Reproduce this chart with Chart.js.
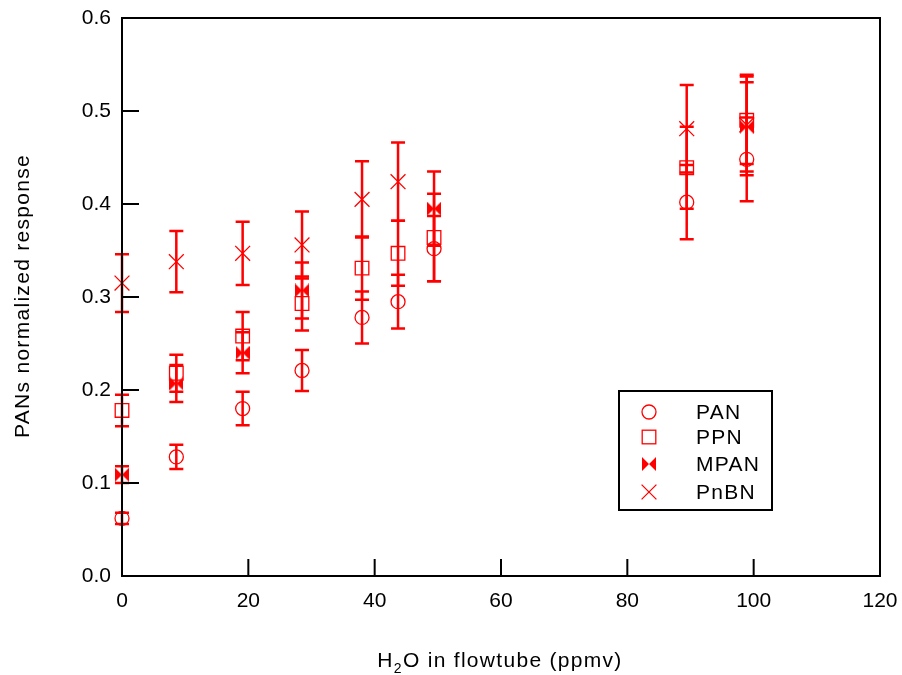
<!DOCTYPE html>
<html lang="en">
<head>
    <meta charset="UTF-8">
    <title>PANs normalized response</title>
    <script src="https://cdn.jsdelivr.net/npm/chart.js"></script>
    <style>
        body { margin: 0; background: #fff; }
        #wrap { width: 902px; height: 675px; }
    </style>
</head>
<body>
    <div id="wrap"><canvas id="chart"></canvas></div>

    <script>
        // H2O (ppmv) and normalized response
        const panX = [0, 8.6, 19.1, 28.5, 38.0, 43.7, 49.4, 89.4, 98.9];
        const panY = [0.062, 0.128, 0.180, 0.221, 0.278, 0.295, 0.352, 0.402, 0.448];
        const panErr = [0.006, 0.013, 0.018, 0.022, 0.028, 0.029, 0.035, 0.040, 0.045];

        const ppnX = [0, 8.6, 19.1, 28.5, 38.0, 43.7, 49.4, 89.4, 98.9];
        const ppnY = [0.178, 0.218, 0.258, 0.293, 0.331, 0.347, 0.364, 0.439, 0.490];
        const ppnErr = [0.017, 0.020, 0.026, 0.029, 0.034, 0.035, 0.047, 0.044, 0.047];

        const mpanX = [0, 8.6, 19.1, 28.5, 49.4, 98.9];
        const mpanY = [0.109, 0.207, 0.240, 0.307, 0.395, 0.483];
        const mpanErr = [0.009, 0.020, 0.022, 0.030, 0.040, 0.048];

        const pnbnX = [0, 8.6, 19.1, 28.5, 38.0, 43.7, 89.4, 98.9];
        const pnbnY = [0.315, 0.338, 0.347, 0.356, 0.405, 0.424, 0.481, 0.485];
        const pnbnErr = [0.031, 0.033, 0.034, 0.036, 0.041, 0.042, 0.047, 0.054];

        const xTicks = [0, 20, 40, 60, 80, 100, 120];
        const yTicks = [0.0, 0.1, 0.2, 0.3, 0.4, 0.5, 0.6];

        const RED = '#ff0000';
        const FONT = 'Liberation Sans, Arial, sans-serif';

        // bow-tie marker for MPAN
        function makeBowtie(size) {
            const c = document.createElement('canvas');
            c.width = size; c.height = size;
            const g = c.getContext('2d');
            g.fillStyle = RED;
            g.beginPath();
            g.moveTo(0, 0); g.lineTo(size / 2, size / 2); g.lineTo(0, size); g.closePath();
            g.moveTo(size, 0); g.lineTo(size / 2, size / 2); g.lineTo(size, size); g.closePath();
            g.fill();
            return c;
        }
        const bowtie = makeBowtie(14);

        function toPoints(xs, ys, errs) {
            return xs.map((x, i) => ({ x: x, y: ys[i], err: errs[i] }));
        }

        const series = [
            { label: 'PAN', data: toPoints(panX, panY, panErr), pointStyle: 'circle', pointRadius: 7 },
            { label: 'PPN', data: toPoints(ppnX, ppnY, ppnErr), pointStyle: 'rect', pointRadius: 9.6 },
            { label: 'MPAN', data: toPoints(mpanX, mpanY, mpanErr), pointStyle: bowtie, pointRadius: 7 },
            { label: 'PnBN', data: toPoints(pnbnX, pnbnY, pnbnErr), pointStyle: 'crossRot', pointRadius: 10.5 }
        ];

        function drawMarker(ctx, style, x, y) {
            ctx.save();
            ctx.strokeStyle = RED;
            ctx.fillStyle = RED;
            ctx.lineWidth = 1.3;
            ctx.beginPath();
            if (style === 'circle') {
                ctx.arc(x, y, 7, 0, Math.PI * 2);
                ctx.stroke();
            } else if (style === 'rect') {
                ctx.strokeRect(x - 6.8, y - 6.8, 13.6, 13.6);
            } else if (style === 'crossRot') {
                ctx.moveTo(x - 7.4, y - 7.4); ctx.lineTo(x + 7.4, y + 7.4);
                ctx.moveTo(x + 7.4, y - 7.4); ctx.lineTo(x - 7.4, y + 7.4);
                ctx.stroke();
            } else {
                ctx.drawImage(bowtie, x - 7, y - 7);
            }
            ctx.restore();
        }

        const errorBars = {
            id: 'errorBars',
            beforeDatasetsDraw(chart) {
                const ctx = chart.ctx;
                const xs = chart.scales.x, ys = chart.scales.y;
                ctx.save();
                ctx.strokeStyle = RED;
                ctx.lineWidth = 2.5;
                chart.data.datasets.forEach(ds => {
                    ds.data.forEach(p => {
                        const px = xs.getPixelForValue(p.x);
                        const top = ys.getPixelForValue(p.y + p.err);
                        const bot = ys.getPixelForValue(p.y - p.err);
                        ctx.beginPath();
                        ctx.moveTo(px, top); ctx.lineTo(px, bot);
                        ctx.moveTo(px - 7, top); ctx.lineTo(px + 7, top);
                        ctx.moveTo(px - 7, bot); ctx.lineTo(px + 7, bot);
                        ctx.stroke();
                    });
                });
                ctx.restore();
            }
        };

        const frame = {
            id: 'frame',
            afterDraw(chart) {
                const ctx = chart.ctx;
                const a = chart.chartArea;
                const xs = chart.scales.x, ys = chart.scales.y;
                ctx.save();
                ctx.strokeStyle = '#000';
                ctx.lineWidth = 2;
                ctx.strokeRect(a.left, a.top, a.right - a.left, a.bottom - a.top);
                ctx.beginPath();
                yTicks.forEach(v => {
                    const py = ys.getPixelForValue(v);
                    ctx.moveTo(a.left, py); ctx.lineTo(a.left + 17, py);
                });
                xTicks.forEach(v => {
                    const px = xs.getPixelForValue(v);
                    ctx.moveTo(px, a.bottom); ctx.lineTo(px, a.bottom - 17);
                });
                ctx.stroke();

                ctx.fillStyle = '#000';
                ctx.letterSpacing = '1.3px';

                // y axis title
                ctx.save();
                ctx.font = '21px ' + FONT;
                ctx.translate(23, 296);
                ctx.rotate(-Math.PI / 2);
                ctx.textAlign = 'center';
                ctx.textBaseline = 'middle';
                ctx.fillText('PANs normalized response', 0, 0);
                ctx.restore();

                // x axis title with subscript
                ctx.textBaseline = 'alphabetic';
                ctx.textAlign = 'left';
                const big = '21px ' + FONT, small = '14px ' + FONT;
                const parts = [['H', big, 0], ['2', small, 6], ['O in flowtube (ppmv)', big, 0]];
                let w = 0;
                parts.forEach(p => { ctx.font = p[1]; w += ctx.measureText(p[0]).width; });
                let x = 500 - w / 2;
                parts.forEach(p => {
                    ctx.font = p[1];
                    ctx.fillText(p[0], x, 667 + p[2]);
                    x += ctx.measureText(p[0]).width;
                });

                // legend box
                ctx.lineWidth = 2;
                ctx.strokeRect(619, 391, 153, 119);
                ctx.font = '21px ' + FONT;
                ctx.textBaseline = 'middle';
                const rows = [412, 437, 464, 492];
                chart.data.datasets.forEach((ds, i) => {
                    const style = typeof ds.pointStyle === 'string' ? ds.pointStyle : 'bowtie';
                    drawMarker(ctx, style, 649, rows[i]);
                    ctx.fillStyle = '#000';
                    ctx.fillText(ds.label, 696, rows[i] + 1);
                });
                ctx.letterSpacing = '0px';
                ctx.restore();
            }
        };

        function noOverhang(scale) {
            scale.paddingLeft = 0;
            scale.paddingRight = 0;
            scale.paddingTop = 0;
            scale.paddingBottom = 0;
        }

        new Chart(document.getElementById('chart'), {
            type: 'scatter',
            data: {
                datasets: series.map(s => ({
                    label: s.label,
                    data: s.data,
                    pointStyle: s.pointStyle,
                    pointRadius: s.pointRadius,
                    pointHoverRadius: s.pointRadius,
                    borderColor: RED,
                    backgroundColor: 'rgba(0,0,0,0)',
                    borderWidth: 1.3,
                    showLine: false,
                    clip: false
                }))
            },
            options: {
                responsive: true,
                maintainAspectRatio: false,
                animation: false,
                layout: { padding: { left: 0, top: 18, right: 22, bottom: 0 } },
                plugins: {
                    legend: { display: false },
                    tooltip: { enabled: false }
                },
                scales: {
                    x: {
                        type: 'linear',
                        min: 0, max: 120,
                        grid: { display: false, drawTicks: false },
                        border: { display: false },
                        afterBuildTicks: scale => { scale.ticks = xTicks.map(v => ({ value: v })); },
                        afterFit: scale => { scale.height = 99; noOverhang(scale); },
                        ticks: {
                            color: '#000',
                            padding: 13,
                            maxRotation: 0,
                            font: { family: FONT, size: 21 },
                            callback: v => String(v)
                        }
                    },
                    y: {
                        type: 'linear',
                        min: 0, max: 0.6,
                        grid: { display: false, drawTicks: false },
                        border: { display: false },
                        afterBuildTicks: scale => { scale.ticks = yTicks.map(v => ({ value: v })); },
                        afterFit: scale => { scale.width = 122; noOverhang(scale); },
                        ticks: {
                            color: '#000',
                            padding: 11,
                            font: { family: FONT, size: 21 },
                            callback: v => v.toFixed(1)
                        }
                    }
                }
            },
            plugins: [errorBars, frame]
        });
    </script>
</body>
</html>
